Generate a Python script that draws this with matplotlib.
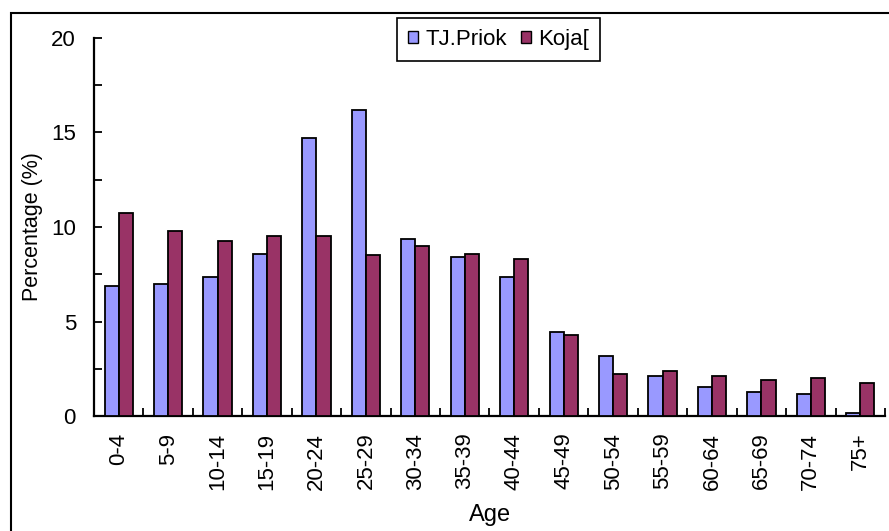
import matplotlib
matplotlib.use("Agg")
import matplotlib.patches as mpatches
import matplotlib.pyplot as plt
import numpy as np


AGE_GROUPS = ["0-4", "5-9", "10-14", "15-19", "20-24", "25-29", "30-34", "35-39",
              "40-44", "45-49", "50-54", "55-59", "60-64", "65-69", "70-74", "75+"]
PRIOK = [6.90, 7.00, 7.37, 8.59, 14.69, 16.20, 9.34, 8.40,
         7.37, 4.46, 3.15, 2.10, 1.54, 1.27, 1.18, 0.18]
KOJA = [10.75, 9.81, 9.25, 9.53, 9.53, 8.51, 8.99, 8.59,
        8.31, 4.30, 2.21, 2.39, 2.12, 1.91, 2.02, 1.73]
SERIES_NAMES = ["TJ.Priok", "Koja["]

COLORS = ["#9999FF", "#993366"]


def main():
    plt.rcParams["font.family"] = ["Liberation Sans", "DejaVu Sans"]
    plt.rcParams["font.size"] = 16

    W, H = 889, 531
    fig = plt.figure(figsize=(W / 100, H / 100), dpi=100)
    ax = fig.add_axes([94 / W, 1 - 416 / H, (885 - 94) / W, (416 - 38) / H])

    n = len(AGE_GROUPS)
    x = np.arange(n)
    width = 1 / 3.5
    for i, (vals, color) in enumerate(zip([PRIOK, KOJA], COLORS)):
        ax.bar(x + (i - 0.5) * width, vals, width, color=color,
               edgecolor="black", linewidth=1.3, zorder=3)

    ax.set_xlim(-0.5, n - 0.5)
    ax.set_ylim(0, 20)

    # category labels in the middle, tick marks on the boundaries
    ax.set_xticks(x)
    ax.set_xticklabels(AGE_GROUPS, rotation=90, va="top")
    ax.tick_params(axis="x", which="major", length=0, pad=12)
    ax.set_xticks(np.arange(n + 1) - 0.5, minor=True)
    ax.tick_params(axis="x", which="minor", direction="in", length=6, width=1.3)

    ax.set_yticks([0, 5, 10, 15, 20])
    ax.set_yticks(np.arange(0, 20.1, 2.5), minor=True)
    ax.tick_params(axis="y", which="both", direction="in", length=6, width=1.3, pad=13)

    for side in ["top", "right"]:
        ax.spines[side].set_visible(False)
    for side in ["left", "bottom"]:
        ax.spines[side].set_linewidth(1.6)

    ax.set_ylabel("Percentage (%)", fontsize=15.5)
    ax.yaxis.set_label_coords(-0.0646, 0.5)
    ax.set_xlabel("Age", fontsize=17)
    ax.xaxis.set_label_coords(0.501, -0.232)

    handles = [mpatches.Patch(facecolor=c, edgecolor="black", linewidth=1.0) for c in COLORS]
    leg = fig.legend(handles, SERIES_NAMES, loc="upper left",
                     bbox_to_anchor=(397 / W, 1 - 18 / H), ncol=2,
                     fancybox=False, framealpha=1, edgecolor="black",
                     handlelength=0.45, handleheight=0.45, handletextpad=0.35,
                     columnspacing=0.6, borderpad=0.5, borderaxespad=0)
    leg.get_frame().set_linewidth(1.2)

    # chart border
    fig.patches.append(mpatches.Rectangle(
        (11 / W, -0.1), 1.2, 1.1 - 13 / H, transform=fig.transFigure,
        fill=False, edgecolor="black", linewidth=1.5,
    ))

    fig.savefig("out.png", dpi=100)


if __name__ == "__main__":
    main()
